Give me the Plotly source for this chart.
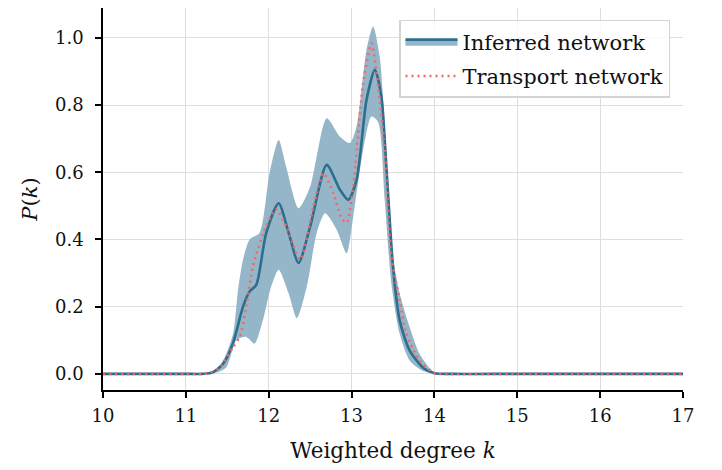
import plotly.graph_objects as go

# Inferred network: mean curve
mean_k = [10, 11, 11.2, 11.32, 11.45, 11.57, 11.69, 11.77, 11.85, 11.97, 12.12, 12.24, 12.36, 12.5, 12.7,
          12.86, 12.96, 13.06, 13.18, 13.28, 13.36, 13.42, 13.5, 13.58, 13.7, 13.87, 14.0, 14.2, 15, 17]
mean_p = [0, 0, 0, 0.004, 0.03, 0.092, 0.2, 0.245, 0.265, 0.42, 0.508, 0.42, 0.33, 0.438, 0.622,
          0.548, 0.518, 0.577, 0.815, 0.905, 0.825, 0.617, 0.32, 0.16, 0.07, 0.017, 0.002, 0, 0, 0]

# Inferred network: uncertainty band
upper_k = [10, 11, 11.2, 11.32, 11.45, 11.57, 11.63, 11.69, 11.77, 11.89, 12.01, 12.12, 12.21, 12.36, 12.5, 12.7,
           12.86, 12.98, 13.06, 13.18, 13.26, 13.34, 13.42, 13.5, 13.58, 13.7, 13.82, 14.0, 14.2, 15, 17]
upper_p = [0, 0, 0, 0.005, 0.04, 0.12, 0.25, 0.34, 0.40, 0.42, 0.597, 0.696, 0.617, 0.493, 0.557, 0.761,
           0.706, 0.687, 0.736, 0.964, 1.034, 0.944, 0.647, 0.35, 0.24, 0.14, 0.06, 0.004, 0, 0, 0]
lower_k = [10, 11, 11.25, 11.37, 11.49, 11.61, 11.73, 11.83, 11.93, 12.03, 12.12, 12.24, 12.34, 12.46, 12.58,
           12.68, 12.82, 12.94, 13.02, 13.14, 13.24, 13.32, 13.40, 13.48, 13.58, 13.70, 13.85, 14.0, 14.2, 15, 17]
lower_p = [0, 0, 0, 0.004, 0.02, 0.1, 0.11, 0.09, 0.16, 0.26, 0.31, 0.24, 0.166, 0.26, 0.42,
           0.478, 0.429, 0.359, 0.468, 0.667, 0.766, 0.75, 0.518, 0.27, 0.12, 0.04, 0.01, 0.001, 0, 0, 0]

# Transport network
trans_k = [10, 11, 11.2, 11.3, 11.41, 11.57, 11.65, 11.73, 11.81, 11.97, 12.09, 12.21, 12.38, 12.54, 12.66,
           12.78, 12.88, 12.94, 13.02, 13.14, 13.24, 13.30, 13.40, 13.48, 13.58, 13.66, 13.82, 14.0, 14.2, 15, 17]
trans_p = [0, 0, 0, 0.004, 0.02, 0.08, 0.11, 0.2, 0.32, 0.44, 0.49, 0.44, 0.34, 0.498, 0.597,
           0.538, 0.463, 0.45, 0.557, 0.865, 0.984, 0.9, 0.667, 0.35, 0.22, 0.12, 0.04, 0.002, 0, 0, 0]

x_ticks = [10, 11, 12, 13, 14, 15, 16, 17]
y_ticks = [0.0, 0.2, 0.4, 0.6, 0.8, 1.0]

BAND = "#94b6c8"
LINE = "#2c6e8e"
RED = "#f06868"
FONT = "DejaVu Serif"
SM = 0.7

fig = go.Figure()
fig.add_trace(go.Scatter(x=lower_k, y=lower_p, mode="lines", line=dict(width=0, shape="spline", smoothing=SM),
                         legendgroup="inf", showlegend=False, hoverinfo="skip"))
fig.add_trace(go.Scatter(x=upper_k, y=upper_p, mode="lines", line=dict(width=0, shape="spline", smoothing=SM),
                         fill="tonexty", fillcolor=BAND, legendgroup="inf", showlegend=False, hoverinfo="skip"))
# invisible duplicate so the mean trace's legend swatch shows band + line
fig.add_trace(go.Scatter(x=mean_k, y=mean_p, mode="lines", line=dict(width=0, shape="spline", smoothing=SM),
                         legendgroup="inf", showlegend=False, hoverinfo="skip"))
fig.add_trace(go.Scatter(x=mean_k, y=mean_p, mode="lines", name="Inferred network", legendgroup="inf",
                         line=dict(color=LINE, width=2.6, shape="spline", smoothing=SM),
                         fill="tonexty", fillcolor=BAND))
fig.add_trace(go.Scatter(x=trans_k, y=trans_p, mode="lines", name="Transport network", legendgroup="tr",
                         line=dict(color=RED, width=2.6, dash="2px,4px", shape="spline", smoothing=SM)))

axis_common = dict(showline=True, linecolor="black", linewidth=1.5, ticks="outside", ticklen=6,
                   tickwidth=1.5, tickcolor="black", showgrid=True, gridcolor="#dedede", gridwidth=1,
                   zeroline=False, tickfont=dict(family=FONT, size=18, color="#111"))

fig.update_layout(
    width=722, height=470,
    margin=dict(l=103, r=39, t=8, b=80),
    paper_bgcolor="white", plot_bgcolor="white",
    font=dict(family=FONT, size=18, color="#111"),
    xaxis=dict(range=[10, 17], tickvals=x_ticks, ticktext=[str(v) for v in x_ticks],
               ticklabelstandoff=3,
               title=dict(text="Weighted degree <i>k</i>", font=dict(family=FONT, size=21.5), standoff=18),
               **axis_common),
    yaxis=dict(range=[-0.048, 1.089], tickvals=y_ticks, ticktext=[f"{v:.1f}" for v in y_ticks],
               ticklabelstandoff=8,
               title=dict(text="<i>P</i>(<i>k</i>)", font=dict(family=FONT, size=21), standoff=12),
               **axis_common),
    legend=dict(x=1 - 13 / 580, xanchor="right", y=0.9686, yanchor="top", traceorder="grouped",
                bgcolor="rgba(255,255,255,0.8)", bordercolor="#d4d4d4", borderwidth=1.5,
                font=dict(family=FONT, size=21), tracegroupgap=4, itemwidth=52),
)

fig.write_html("out.html")
